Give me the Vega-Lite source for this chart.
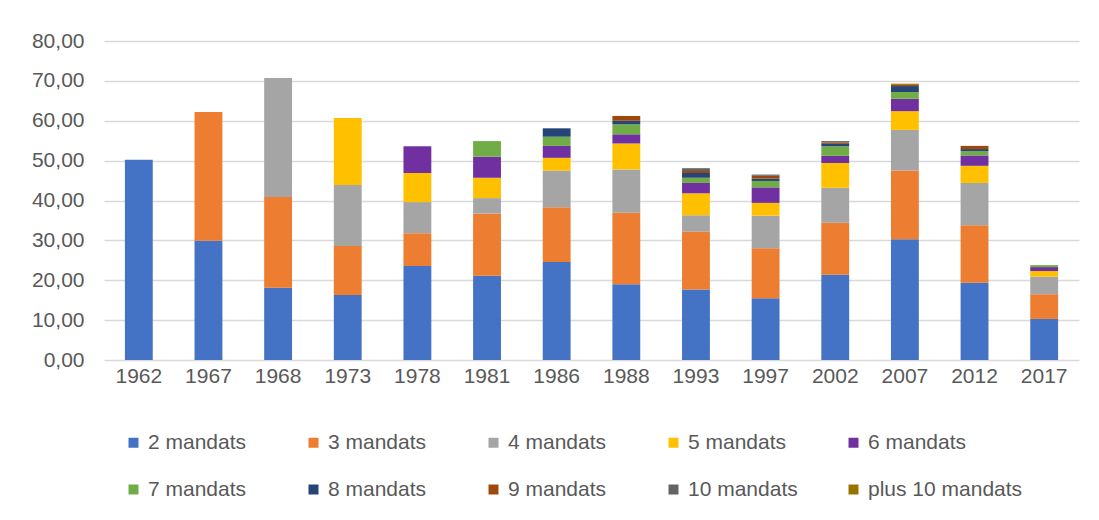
{
  "$schema": "https://vega.github.io/schema/vega-lite/v6.json",
  "width": 975,
  "height": 319,
  "autosize": {"type": "none"},
  "padding": {"left": 104, "top": 41, "right": 20, "bottom": 160},
  "background": "white",
  "config": {
    "view": {"stroke": null},
    "font": "Liberation Sans",
    "axis": {"labelFont": "Liberation Sans", "labelColor": "#595959", "labelFontSize": 21, "ticks": false},
    "legend": {"labelFont": "Liberation Sans"}
  },
  "data": {
    "values": [
      {"year": "1962", "cat": "2 mandats", "k": 1, "value": 50.2},
      {"year": "1967", "cat": "2 mandats", "k": 1, "value": 29.9},
      {"year": "1967", "cat": "3 mandats", "k": 2, "value": 32.3},
      {"year": "1968", "cat": "2 mandats", "k": 1, "value": 18.1},
      {"year": "1968", "cat": "3 mandats", "k": 2, "value": 22.8},
      {"year": "1968", "cat": "4 mandats", "k": 3, "value": 29.8},
      {"year": "1973", "cat": "2 mandats", "k": 1, "value": 16.3},
      {"year": "1973", "cat": "3 mandats", "k": 2, "value": 12.3},
      {"year": "1973", "cat": "4 mandats", "k": 3, "value": 15.3},
      {"year": "1973", "cat": "5 mandats", "k": 4, "value": 16.8},
      {"year": "1978", "cat": "2 mandats", "k": 1, "value": 23.6},
      {"year": "1978", "cat": "3 mandats", "k": 2, "value": 8.2},
      {"year": "1978", "cat": "4 mandats", "k": 3, "value": 7.8},
      {"year": "1978", "cat": "5 mandats", "k": 4, "value": 7.3},
      {"year": "1978", "cat": "6 mandats", "k": 5, "value": 6.7},
      {"year": "1981", "cat": "2 mandats", "k": 1, "value": 21.1},
      {"year": "1981", "cat": "3 mandats", "k": 2, "value": 15.6},
      {"year": "1981", "cat": "4 mandats", "k": 3, "value": 3.9},
      {"year": "1981", "cat": "5 mandats", "k": 4, "value": 5.1},
      {"year": "1981", "cat": "6 mandats", "k": 5, "value": 5.3},
      {"year": "1981", "cat": "7 mandats", "k": 6, "value": 3.9},
      {"year": "1986", "cat": "2 mandats", "k": 1, "value": 24.6},
      {"year": "1986", "cat": "3 mandats", "k": 2, "value": 13.7},
      {"year": "1986", "cat": "4 mandats", "k": 3, "value": 9.2},
      {"year": "1986", "cat": "5 mandats", "k": 4, "value": 3.2},
      {"year": "1986", "cat": "6 mandats", "k": 5, "value": 3.0},
      {"year": "1986", "cat": "7 mandats", "k": 6, "value": 2.3},
      {"year": "1986", "cat": "8 mandats", "k": 7, "value": 2.1},
      {"year": "1988", "cat": "2 mandats", "k": 1, "value": 19.0},
      {"year": "1988", "cat": "3 mandats", "k": 2, "value": 17.9},
      {"year": "1988", "cat": "4 mandats", "k": 3, "value": 10.9},
      {"year": "1988", "cat": "5 mandats", "k": 4, "value": 6.5},
      {"year": "1988", "cat": "6 mandats", "k": 5, "value": 2.3},
      {"year": "1988", "cat": "7 mandats", "k": 6, "value": 2.5},
      {"year": "1988", "cat": "8 mandats", "k": 7, "value": 0.9},
      {"year": "1988", "cat": "9 mandats", "k": 8, "value": 1.2},
      {"year": "1993", "cat": "2 mandats", "k": 1, "value": 17.7},
      {"year": "1993", "cat": "3 mandats", "k": 2, "value": 14.5},
      {"year": "1993", "cat": "4 mandats", "k": 3, "value": 4.1},
      {"year": "1993", "cat": "5 mandats", "k": 4, "value": 5.5},
      {"year": "1993", "cat": "6 mandats", "k": 5, "value": 2.6},
      {"year": "1993", "cat": "7 mandats", "k": 6, "value": 1.3},
      {"year": "1993", "cat": "8 mandats", "k": 7, "value": 1.2},
      {"year": "1993", "cat": "9 mandats", "k": 8, "value": 0.5},
      {"year": "1993", "cat": "10 mandats", "k": 9, "value": 0.7},
      {"year": "1997", "cat": "2 mandats", "k": 1, "value": 15.5},
      {"year": "1997", "cat": "3 mandats", "k": 2, "value": 12.5},
      {"year": "1997", "cat": "4 mandats", "k": 3, "value": 8.2},
      {"year": "1997", "cat": "5 mandats", "k": 4, "value": 3.2},
      {"year": "1997", "cat": "6 mandats", "k": 5, "value": 3.9},
      {"year": "1997", "cat": "7 mandats", "k": 6, "value": 1.6},
      {"year": "1997", "cat": "8 mandats", "k": 7, "value": 0.6},
      {"year": "1997", "cat": "9 mandats", "k": 8, "value": 0.7},
      {"year": "1997", "cat": "10 mandats", "k": 9, "value": 0.3},
      {"year": "2002", "cat": "2 mandats", "k": 1, "value": 21.4},
      {"year": "2002", "cat": "3 mandats", "k": 2, "value": 13.0},
      {"year": "2002", "cat": "4 mandats", "k": 3, "value": 8.8},
      {"year": "2002", "cat": "5 mandats", "k": 4, "value": 6.2},
      {"year": "2002", "cat": "6 mandats", "k": 5, "value": 1.8},
      {"year": "2002", "cat": "7 mandats", "k": 6, "value": 2.4},
      {"year": "2002", "cat": "8 mandats", "k": 7, "value": 0.6},
      {"year": "2002", "cat": "9 mandats", "k": 8, "value": 0.35},
      {"year": "2002", "cat": "10 mandats", "k": 9, "value": 0.35},
      {"year": "2007", "cat": "2 mandats", "k": 1, "value": 30.3},
      {"year": "2007", "cat": "3 mandats", "k": 2, "value": 17.2},
      {"year": "2007", "cat": "4 mandats", "k": 3, "value": 10.2},
      {"year": "2007", "cat": "5 mandats", "k": 4, "value": 4.7},
      {"year": "2007", "cat": "6 mandats", "k": 5, "value": 3.1},
      {"year": "2007", "cat": "7 mandats", "k": 6, "value": 1.7},
      {"year": "2007", "cat": "8 mandats", "k": 7, "value": 1.5},
      {"year": "2007", "cat": "9 mandats", "k": 8, "value": 0.3},
      {"year": "2007", "cat": "plus 10 mandats", "k": 10, "value": 0.3},
      {"year": "2012", "cat": "2 mandats", "k": 1, "value": 19.4},
      {"year": "2012", "cat": "3 mandats", "k": 2, "value": 14.4},
      {"year": "2012", "cat": "4 mandats", "k": 3, "value": 10.6},
      {"year": "2012", "cat": "5 mandats", "k": 4, "value": 4.3},
      {"year": "2012", "cat": "6 mandats", "k": 5, "value": 2.6},
      {"year": "2012", "cat": "7 mandats", "k": 6, "value": 1.1},
      {"year": "2012", "cat": "8 mandats", "k": 7, "value": 0.5},
      {"year": "2012", "cat": "9 mandats", "k": 8, "value": 0.8},
      {"year": "2017", "cat": "2 mandats", "k": 1, "value": 10.3},
      {"year": "2017", "cat": "3 mandats", "k": 2, "value": 6.2},
      {"year": "2017", "cat": "4 mandats", "k": 3, "value": 4.4},
      {"year": "2017", "cat": "5 mandats", "k": 4, "value": 1.4},
      {"year": "2017", "cat": "6 mandats", "k": 5, "value": 1.0},
      {"year": "2017", "cat": "7 mandats", "k": 6, "value": 0.5}
    ]
  },
  "mark": {"type": "bar"},
  "encoding": {
    "x": {
      "field": "year", "type": "nominal", "sort": null,
      "scale": {"paddingInner": 0.6, "paddingOuter": 0.3},
      "axis": {"title": null, "labelAngle": 0, "domain": false, "labelPadding": 5}
    },
    "y": {
      "field": "value", "type": "quantitative", "aggregate": "sum", "stack": "zero",
      "scale": {"domain": [0, 80], "nice": false},
      "axis": {
        "title": null, "values": [0, 10, 20, 30, 40, 50, 60, 70, 80],
        "labelExpr": "replace(format(datum.value, '.2f'), '.', ',')",
        "domain": false, "gridColor": "#D9D9D9", "gridWidth": 1.3, "labelPadding": 20
      }
    },
    "order": {"field": "k", "type": "quantitative"},
    "color": {
      "field": "cat", "type": "nominal",
      "scale": {
        "domain": ["2 mandats", "3 mandats", "4 mandats", "5 mandats", "6 mandats", "7 mandats", "8 mandats", "9 mandats", "10 mandats", "plus 10 mandats"],
        "range": ["#4472C4", "#ED7D31", "#A5A5A5", "#FFC000", "#7030A0", "#70AD47", "#264478", "#9E480E", "#636363", "#997300"]
      },
      "legend": {
        "title": null, "orient": "none", "legendX": 19, "legendY": 391,
        "direction": "horizontal", "columns": 5, "gridAlign": "all",
        "symbolType": "square", "symbolSize": 100, "symbolStrokeWidth": 0,
        "labelFontSize": 21, "labelColor": "#595959", "labelOffset": 4,
        "rowPadding": 25, "columnPadding": 0, "padding": 0
      }
    }
  }
}
